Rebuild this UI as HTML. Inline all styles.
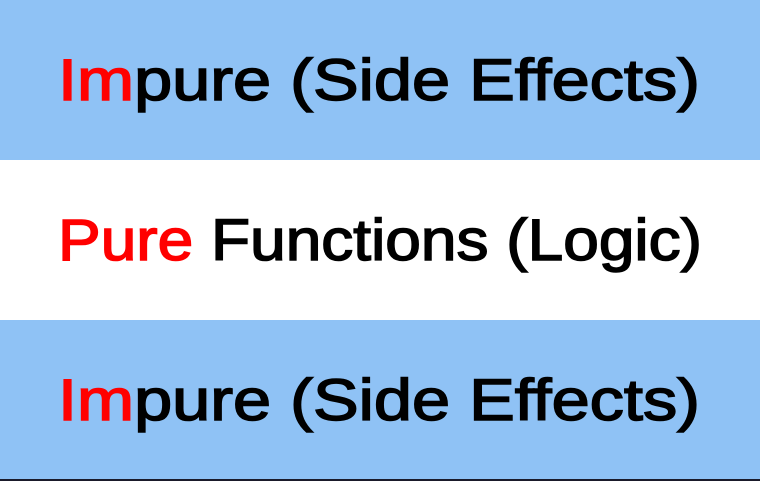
<!DOCTYPE html>
<html><head><meta charset="utf-8"><style>
html,body{margin:0;padding:0;width:760px;height:481px;overflow:hidden;background:#fff}
svg{display:block}
text{font-family:"Liberation Sans",sans-serif;font-size:58px;fill:#000;stroke:#000;stroke-width:1.5}
tspan.r{fill:#f00;stroke:#f00}
</style></head><body>
<svg width="760" height="481" viewBox="0 0 760 481">
<rect x="0" y="0" width="760" height="160" fill="#8fc2f5"/>
<rect x="0" y="160" width="760" height="160" fill="#ffffff"/>
<rect x="0" y="320" width="760" height="159" fill="#8fc2f5"/>
<rect x="0" y="479" width="760" height="2" fill="#1a1a2a"/>
<text x="58" y="100" textLength="642" lengthAdjust="spacingAndGlyphs"><tspan class="r">Im</tspan>pure (Side Effects)</text>
<text x="58" y="260" textLength="644" lengthAdjust="spacingAndGlyphs"><tspan class="r">Pure</tspan> Functions (Logic)</text>
<text x="58" y="420" textLength="642" lengthAdjust="spacingAndGlyphs"><tspan class="r">Im</tspan>pure (Side Effects)</text>
</svg>
</body></html>
